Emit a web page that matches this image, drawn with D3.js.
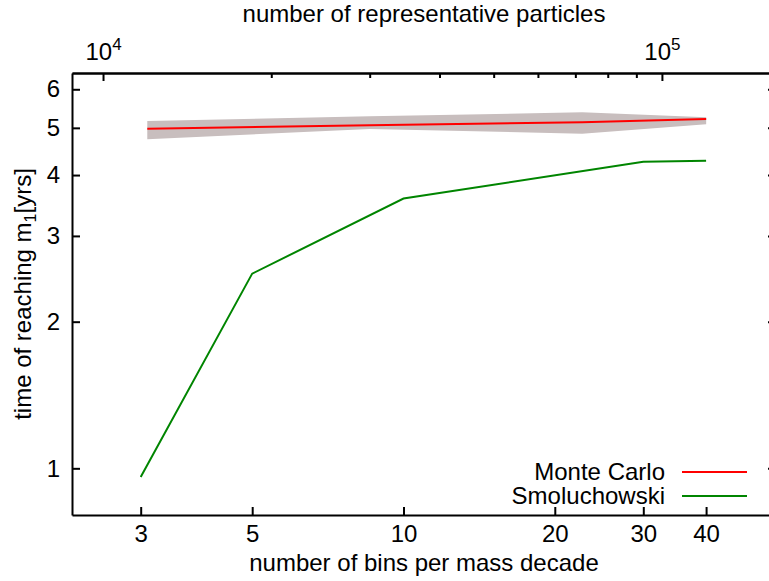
<!DOCTYPE html>
<html>
<head>
<meta charset="utf-8">
<script src="https://cdn.jsdelivr.net/npm/d3@7"></script>
<style>
  body { margin: 0; background: #fff; }
  svg { display: block; font-family: "Liberation Sans", Arial, Helvetica, sans-serif; }
  .axis path, .axis line { stroke: #000; stroke-width: 2; }
  .axis text { font-size: 24px; fill: #000; }
</style>
</head>
<body>
<svg id="chart" width="769" height="581"></svg>
<script>
"use strict";

// Smoluchowski: bins per mass decade vs time
var binsValues = [3, 5, 10, 30, 40];
var smoluchowskiTime = [0.96, 2.51, 3.58, 4.26, 4.28];

// Monte Carlo: number of representative particles vs time (mean and spread)
var particleCounts = [12000, 30000, 72000, 120000];
var monteCarloTime = [4.98, 5.06, 5.135, 5.215];
var monteCarloLow = [4.74, 4.97, 4.865, 5.086];
var monteCarloHigh = [5.167, 5.28, 5.38, 5.257];

// axis ticks
var binTicks = [3, 5, 10, 20, 30, 40];
var timeTicks = [1, 2, 3, 4, 5, 6];
var particleMajor = [1e4, 1e5];
var particleMinor = [2e4, 3e4, 4e4, 5e4, 6e4, 7e4, 8e4, 9e4];
var binDomain = [2.19, 55.1];
var particleDomain = [8800, 160000];
var timeDomain = [0.802, 6.48];

var svg = d3.select("#chart");
var plot = { left: 72, right: 776, top: 73, bottom: 515 };

var x = d3.scaleLog().domain(binDomain).range([plot.left, plot.right]);
var xTop = d3.scaleLog().domain(particleDomain).range([plot.left, plot.right]);
var y = d3.scaleLog().domain(timeDomain).range([plot.bottom, plot.top]);

// spread band of Monte Carlo runs
var band = d3.area()
  .x(function (d, i) { return xTop(particleCounts[i]); })
  .y0(function (d, i) { return y(monteCarloLow[i]); })
  .y1(function (d, i) { return y(monteCarloHigh[i]); });

svg.append("path")
  .datum(particleCounts)
  .attr("d", band)
  .attr("fill", "#c8bebe");

var line = d3.line();

svg.append("path")
  .attr("d", line(particleCounts.map(function (n, i) { return [xTop(n), y(monteCarloTime[i])]; })))
  .attr("fill", "none").attr("stroke", "#ff0000").attr("stroke-width", 2);

svg.append("path")
  .attr("d", line(binsValues.map(function (b, i) { return [x(b), y(smoluchowskiTime[i])]; })))
  .attr("fill", "none").attr("stroke", "#008500").attr("stroke-width", 2);

// axes
svg.append("g").attr("class", "axis")
  .attr("transform", "translate(0," + plot.bottom + ")")
  .call(d3.axisBottom(x).tickValues(binTicks).tickFormat(d3.format("d"))
    .tickSizeInner(-8).tickSizeOuter(0).tickPadding(10));

svg.append("g").attr("class", "axis")
  .attr("transform", "translate(" + plot.left + ",0)")
  .call(d3.axisLeft(y).tickValues(timeTicks).tickFormat(d3.format("d"))
    .tickSizeInner(-8).tickSizeOuter(0).tickPadding(12));

svg.append("g").attr("class", "axis")
  .attr("transform", "translate(" + plot.right + ",0)")
  .call(d3.axisRight(y).tickValues(timeTicks).tickFormat("")
    .tickSizeInner(-8).tickSizeOuter(0));

svg.append("g").attr("class", "axis")
  .attr("transform", "translate(0," + plot.top + ")")
  .call(d3.axisTop(xTop).tickValues(particleMinor).tickFormat("")
    .tickSizeInner(-5).tickSizeOuter(0));

var topAxis = svg.append("g").attr("class", "axis")
  .attr("transform", "translate(0," + plot.top + ")")
  .call(d3.axisTop(xTop).tickValues(particleMajor).tickFormat("")
    .tickSizeInner(-8).tickSizeOuter(0));

topAxis.selectAll(".tick text").remove();
topAxis.selectAll(".tick").append("text")
  .attr("y", -13)
  .attr("text-anchor", "middle")
  .each(function (d) {
    var t = d3.select(this);
    t.append("tspan").text("10");
    t.append("tspan").attr("dy", -10).attr("font-size", "17px")
      .text(Math.round(Math.log10(d)));
  });

// axis titles
svg.append("text")
  .attr("x", (plot.left + plot.right) / 2).attr("y", 571)
  .attr("text-anchor", "middle").attr("font-size", 24)
  .text("number of bins per mass decade");

svg.append("text")
  .attr("x", (plot.left + plot.right) / 2).attr("y", 22)
  .attr("text-anchor", "middle").attr("font-size", 24)
  .text("number of representative particles");

var yTitle = svg.append("text")
  .attr("transform", "translate(31," + (plot.top + plot.bottom) / 2 + ") rotate(-90)")
  .attr("text-anchor", "middle").attr("font-size", 24);
yTitle.append("tspan").text("time of reaching m");
yTitle.append("tspan").attr("dy", 5).attr("font-size", "16px").text("1");
yTitle.append("tspan").attr("dy", -5).text("[yrs]");

// legend
var legendItems = [
  { name: "Monte Carlo", color: "#ff0000" },
  { name: "Smoluchowski", color: "#008500" }
];
var legend = svg.selectAll(".legend")
  .data(legendItems)
  .enter().append("g")
  .attr("class", "legend")
  .attr("transform", function (d, i) { return "translate(0," + (472 + i * 24) + ")"; });

legend.append("text")
  .attr("x", 665).attr("y", 8)
  .attr("text-anchor", "end").attr("font-size", 24)
  .text(function (d) { return d.name; });

legend.append("line")
  .attr("x1", 682).attr("x2", 747)
  .attr("stroke", function (d) { return d.color; })
  .attr("stroke-width", 2);
</script>
</body>
</html>
